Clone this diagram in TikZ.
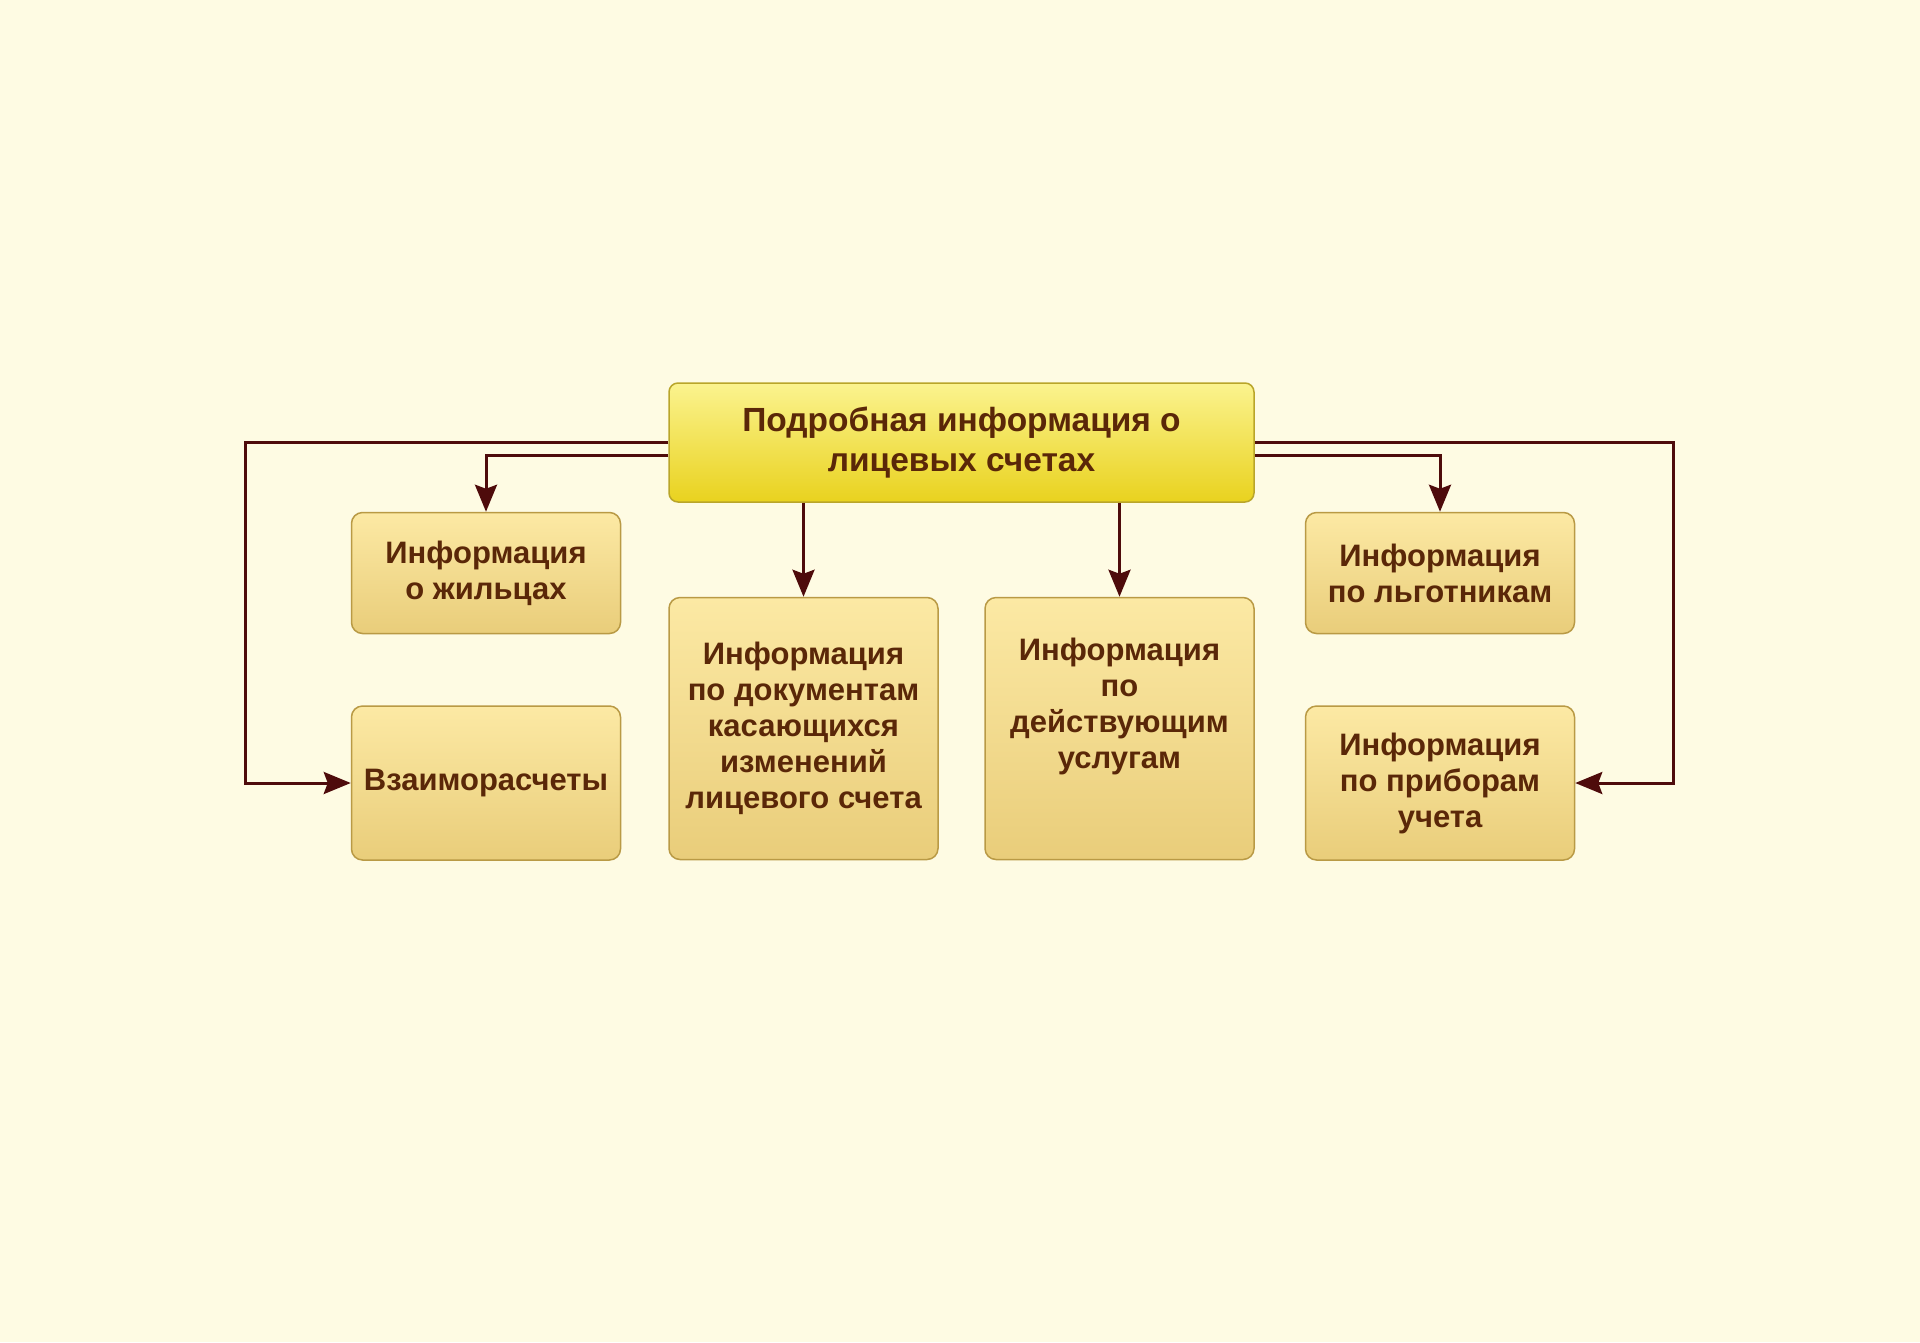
\documentclass[tikz,border=0pt]{standalone}
\usepackage{fontspec}
\setmainfont{Liberation Sans}
\usetikzlibrary{arrows.meta,positioning}
\definecolor{PageCream}{HTML}{FEFBE3}
\definecolor{HeadTop}{HTML}{FBF38F}
\definecolor{HeadBot}{HTML}{E9D21E}
\definecolor{HeadLine}{HTML}{B9A52A}
\definecolor{CellTop}{HTML}{FCE9A4}
\definecolor{CellBot}{HTML}{E9CD7A}
\definecolor{CellLine}{HTML}{B99A45}
\definecolor{InkBrown}{HTML}{5A2708}
\definecolor{WireRed}{HTML}{4E0B0B}

\begin{document}
\begin{tikzpicture}[x=1pt,y=-1pt,
  head/.style={draw=HeadLine,line width=1.5pt,rounded corners=9pt,top color=HeadTop,bottom color=HeadBot,
    minimum width=585pt,minimum height=119pt,align=center,text=InkBrown,
    font=\fontsize{33.5}{39.5}\selectfont\bfseries},
  cell/.style={draw=CellLine,line width=1.5pt,rounded corners=11pt,top color=CellTop,bottom color=CellBot,
    minimum width=269pt,minimum height=121pt,align=center,text=InkBrown,inner sep=2pt,
    font=\fontsize{31}{36}\selectfont\bfseries},
  wire/.style={-{Stealth[length=27pt,width=22pt,inset=4pt]},line width=3pt,color=WireRed}
]
\useasboundingbox[fill=PageCream] (0,0) rectangle (1920,1342);
\node[head] (top) at (961.5,442.5) {Подробная информация о\\лицевых счетах};
\node[cell,minimum height=262pt,below right=94pt and 0pt of top.south west] (docs)
  {Информация\\по документам\\касающихся\\изменений\\лицевого счета};
\node[cell,minimum height=262pt,text depth=51pt,below left=94pt and 0pt of top.south east] (serv)
  {Информация\\по\\действующим\\услугам};
\node[cell,below left=9pt and 47pt of top.south west] (resid) {Информация\\о жильцах};
\node[cell,minimum height=154pt,below=71pt of resid.south,anchor=north] (settle) {Взаиморасчеты};
\node[cell,below right=9pt and 50pt of top.south east] (benef) {Информация\\по льготникам};
\node[cell,minimum height=154pt,below=71pt of benef.south,anchor=north] (meter) {Информация\\по приборам\\учета};
% left side
\draw[wire] (top.west) -- ++(-423,0) |- (settle.west);
\draw[wire] ([yshift=-13pt]top.west) -| (resid.north);
% right side
\draw[wire] (top.east) -- ++(419,0) |- (meter.east);
\draw[wire] ([yshift=-13pt]top.east) -| (benef.north);
% down
\draw[wire] (docs.north |- top.south) -- (docs.north);
\draw[wire] (serv.north |- top.south) -- (serv.north);
\end{tikzpicture}
\end{document}
